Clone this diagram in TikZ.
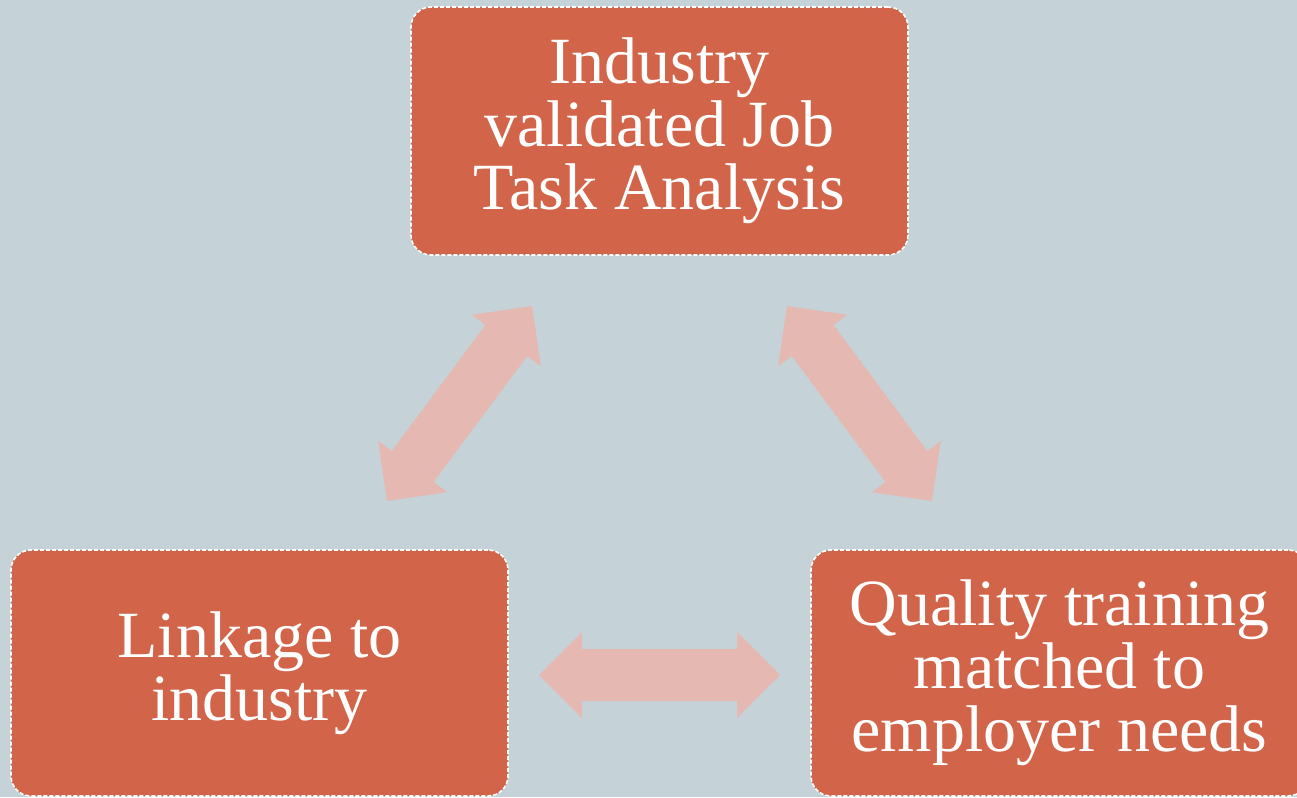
\documentclass[tikz,border=0pt]{standalone}
\usepackage{fontspec}
\setmainfont{Liberation Serif}
\usetikzlibrary{calc}
\definecolor{bgc}{HTML}{C5D2D8}
\definecolor{boxc}{HTML}{D16449}
\definecolor{arrc}{HTML}{E5B8B1}
\tikzset{
  box/.style={rectangle, rounded corners=20pt, fill=boxc, draw=white,
    line width=1.6pt, dash pattern=on 4pt off 2pt,
    minimum width=497pt, inner sep=0pt, text=white, align=center,
    font=\fontsize{66}{63}\selectfont},
  arrowfill/.style={fill=arrc, draw=none}
}
\newcommand\blockarrow[2]{%
  \fill[arrowfill] (#1)
    -- ($(#1)!43pt!(#2)!43pt!90:(#2)$)
    -- ($(#1)!43pt!(#2)!26pt!90:(#2)$)
    -- ($(#2)!43pt!(#1)!26pt!-90:(#1)$)
    -- ($(#2)!43pt!(#1)!43pt!-90:(#1)$)
    -- (#2)
    -- ($(#2)!43pt!(#1)!43pt!90:(#1)$)
    -- ($(#2)!43pt!(#1)!26pt!90:(#1)$)
    -- ($(#1)!43pt!(#2)!26pt!-90:(#2)$)
    -- ($(#1)!43pt!(#2)!43pt!-90:(#2)$)
    -- cycle;}
\begin{document}
\begin{tikzpicture}[x=1pt,y=-1pt]
  \useasboundingbox (0,0) rectangle (1297,797);
  \clip (0,0) rectangle (1297,797);
  \fill[bgc] (0,0) rectangle (1297,797);

  \node[box, minimum height=248pt] (top) at (659.5,131) {Industry\\validated Job\\Task Analysis};
  \node[box, minimum height=246pt] (left) at (259.5,673) {Linkage to\\industry};
  \node[box, minimum height=246pt] (right) at (1059.5,673) {Quality training\\matched to\\employer needs};

  \coordinate (l1) at (387,501);
  \coordinate (l2) at (532,306);
  \coordinate (r1) at (787,306);
  \coordinate (r2) at (932,501);
  \coordinate (h1) at (539,675);
  \coordinate (h2) at (780,675);
  \blockarrow{l1}{l2}
  \blockarrow{r1}{r2}
  \blockarrow{h1}{h2}
\end{tikzpicture}
\end{document}
